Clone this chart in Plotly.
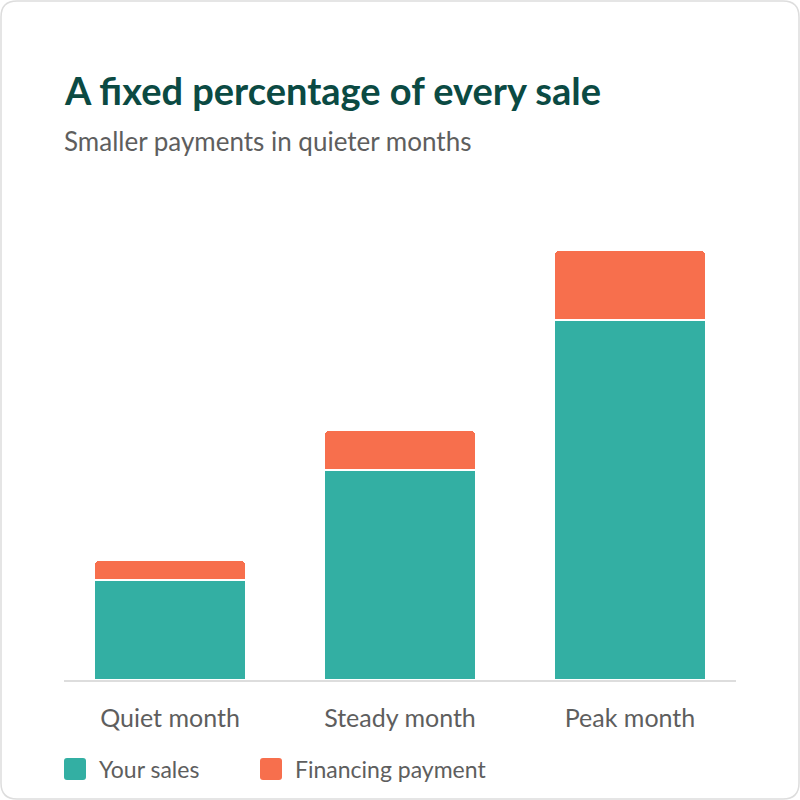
import plotly.graph_objects as go

categories = ["Quiet month", "Steady month", "Peak month"]
your_sales = [10, 21, 36]
financing_payment = [2, 4, 7]
series_names = ["Your sales", "Financing payment"]

TEAL = "#33AFA3"
ORANGE = "#F76F4D"
TITLE_C = "#0B4A43"
TEXT_C = "#5E5E5E"
FONT = "Lato"

W = H = 800
def px(x):
    return x / W
def py(y):
    return 1 - y / H

fig = go.Figure()
fig.add_trace(go.Bar(x=categories, y=your_sales, name=series_names[0],
                     marker=dict(color=TEAL, line=dict(color="white", width=2)),
                     width=0.661, showlegend=False, hoverinfo="x+y+name"))
fig.add_trace(go.Bar(x=categories, y=financing_payment, name=series_names[1],
                     marker=dict(color=ORANGE, line=dict(color="white", width=2)),
                     width=0.661, showlegend=False, hoverinfo="x+y+name"))

shapes = []
# card border
r = 16
x0, y0, x1, y1 = 1, 1, 799, 799
def P(x, y):
    return f"{px(x):.5f},{py(y):.5f}"
path = (f"M {P(x0+r,y0)} L {P(x1-r,y0)} Q {P(x1,y0)} {P(x1,y0+r)} "
        f"L {P(x1,y1-r)} Q {P(x1,y1)} {P(x1-r,y1)} L {P(x0+r,y1)} "
        f"Q {P(x0,y1)} {P(x0,y1-r)} L {P(x0,y0+r)} Q {P(x0,y0)} {P(x0+r,y0)} Z")
shapes.append(dict(type="path", xref="paper", yref="paper", path=path,
                   line=dict(color="#DDDDDD", width=1.5), fillcolor="white", layer="below"))

def rounded_square(xa, ya, xb, yb, rr, color):
    p = (f"M {P(xa+rr,ya)} L {P(xb-rr,ya)} Q {P(xb,ya)} {P(xb,ya+rr)} "
         f"L {P(xb,yb-rr)} Q {P(xb,yb)} {P(xb-rr,yb)} L {P(xa+rr,yb)} "
         f"Q {P(xa,yb)} {P(xa,yb-rr)} L {P(xa,ya+rr)} Q {P(xa,ya)} {P(xa+rr,ya)} Z")
    return dict(type="path", xref="paper", yref="paper", path=p,
                line=dict(width=0), fillcolor=color)

shapes.append(rounded_square(64, 758, 86, 780, 3, TEAL))
shapes.append(rounded_square(260, 758, 282, 780, 3, ORANGE))

annotations = [
    dict(text="<b>A fixed percentage of every sale</b>", x=px(62), y=py(90),
         xref="paper", yref="paper", xanchor="left", yanchor="middle", showarrow=False,
         font=dict(family=FONT, size=38, color=TITLE_C)),
    dict(text="Smaller payments in quieter months", x=px(62), y=py(141),
         xref="paper", yref="paper", xanchor="left", yanchor="middle", showarrow=False,
         font=dict(family=FONT, size=26, color=TEXT_C)),
    dict(text=series_names[0], x=px(97), y=py(769),
         xref="paper", yref="paper", xanchor="left", yanchor="middle", showarrow=False,
         font=dict(family=FONT, size=23, color=TEXT_C)),
    dict(text=series_names[1], x=px(293), y=py(769),
         xref="paper", yref="paper", xanchor="left", yanchor="middle", showarrow=False,
         font=dict(family=FONT, size=23, color=TEXT_C)),
]

fig.update_layout(
    width=W, height=H,
    margin=dict(l=0, r=0, t=0, b=0),
    paper_bgcolor="white", plot_bgcolor="rgba(0,0,0,0)",
    barmode="stack", barcornerradius=5,
    showlegend=False,
    shapes=shapes, annotations=annotations,
    font=dict(family=FONT, color=TEXT_C),
    xaxis=dict(domain=[px(64), px(736)], range=[-0.4609, 2.4609],
               showline=True, linecolor="#DDDDDD", linewidth=2,
               showgrid=False, zeroline=False, ticks="",
               tickfont=dict(family=FONT, size=25, color=TEXT_C),
               ticklabelstandoff=15, fixedrange=True),
    yaxis=dict(domain=[py(680), py(180)], range=[0, 50],
               showgrid=False, zeroline=False, showticklabels=False,
               showline=False, fixedrange=True),
)

fig.write_html("out.html")
